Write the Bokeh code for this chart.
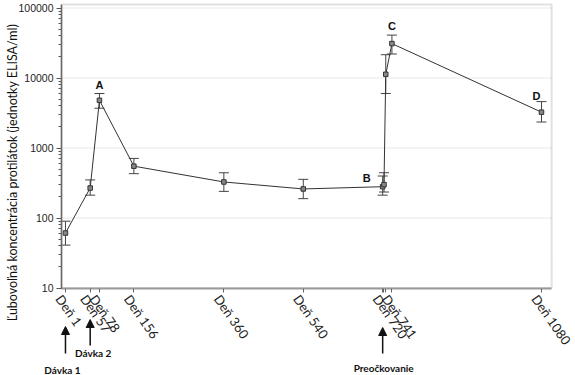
import math
from bokeh.plotting import figure
from bokeh.models import (ColumnDataSource, Whisker, TeeHead, Range1d, FixedTicker,
                          NumeralTickFormatter, Label, Arrow, NormalHead, LogTicker,
                          BoxAnnotation, LinearScale)
from bokeh.core.properties import value
from bokeh.embed import file_html
from bokeh.resources import INLINE

# ---- data ----
days = [1, 57, 78, 156, 360, 540, 720, 723, 727, 741, 1080]
gmt = [61, 268, 4800, 550, 327, 260, 280, 300, 11300, 31000, 3250]
ci_low = [41, 212, 3700, 430, 240, 189, 212, 235, 6000, 22000, 2350]
ci_high = [90, 350, 6000, 710, 443, 357, 398, 443, 21500, 41000, 4600]

tick_days = [1, 57, 78, 156, 360, 540, 720, 723, 727, 741, 1080]
tick_labels = ["Deň 1", "Deň 57", "Deň 78", "Deň 156", "Deň 360", "Deň 540",
               "Deň 720", "", "", "Deň 741", "Deň 1080"]

grid_values = [100, 1000, 10000, 100000]

point_letters = ["A", "B", "C", "D"]
letter_days = [78, 720, 741, 1080]

dose_texts = ["Dávka 1", "Dávka 2", "Preočkovanie"]
dose_days = [1, 57, 720]

y_title = "Ľubovoľná koncentrácia protilátok (jednotky ELISA/ml)"

# ---- layout constants (pixels) ----
FIG_W, FIG_H = 575, 375
ABOVE_PX = 287.5       # space above the x axis line
BELOW_PX = FIG_H - ABOVE_PX
DEC_PX = 70.0          # pixels per decade
BOX_TOP_PX = 283.5
X_START, X_END = -146.3, 1157.1
BOX_LEFT, BOX_RIGHT = -8, 1103

y_start = 10 ** (1 - BELOW_PX / DEC_PX)
y_end = 10 ** (1 + ABOVE_PX / DEC_PX)
box_top = 10 ** (1 + BOX_TOP_PX / DEC_PX)

p = figure(width=FIG_W, height=FIG_H, y_axis_type="log",
           x_range=Range1d(X_START, X_END), y_range=Range1d(y_start, y_end),
           output_backend="svg", toolbar_location=None, min_border=0)
p.extra_x_ranges = {"px": Range1d(0, FIG_W)}
p.extra_x_scales = {"px": LinearScale()}
p.extra_y_ranges = {"px": Range1d(-BELOW_PX, ABOVE_PX)}
p.extra_y_scales = {"px": LinearScale()}

p.outline_line_color = None
p.background_fill_color = "white"
p.border_fill_color = "white"
p.xgrid.visible = False
p.ygrid.visible = False

# grid lines inside the box
p.segment(x0=BOX_LEFT, x1=BOX_RIGHT, y0=grid_values, y1=grid_values,
          line_color="#e8e8e8", line_width=1)

# plot box
p.add_layout(BoxAnnotation(left=BOX_LEFT, right=BOX_RIGHT, bottom=10, top=box_top,
                           fill_color=None, line_color="#9a9a9a", line_width=2))

# y axis
p.yaxis.fixed_location = BOX_LEFT
p.yaxis.bounds = (10, box_top)
p.yaxis.ticker = LogTicker(num_minor_ticks=10)
p.yaxis.formatter = NumeralTickFormatter(format="0")
p.yaxis.major_label_text_font = "Liberation Sans"
p.yaxis.major_label_text_font_size = "10.5px"
p.yaxis.major_label_text_color = "#222222"
p.yaxis.axis_line_color = "#555555"
p.yaxis.axis_line_width = 1.5
p.yaxis.major_tick_line_color = "#555555"
p.yaxis.minor_tick_line_color = "#555555"
p.yaxis.major_tick_out = 5
p.yaxis.major_tick_in = 0
p.yaxis.minor_tick_out = 3
p.yaxis.minor_tick_in = 0
p.yaxis.major_label_standoff = 3

# x axis: ticks only (labels drawn rotated below)
p.xaxis.fixed_location = 10
p.xaxis.bounds = (BOX_LEFT, BOX_RIGHT)
p.xaxis.ticker = FixedTicker(ticks=[], minor_ticks=tick_days)
p.xaxis.axis_line_color = "#9a9a9a"
p.xaxis.axis_line_width = 2
p.xaxis.major_tick_line_color = None
p.xaxis.minor_tick_line_color = "#666666"
p.xaxis.minor_tick_out = 4
p.xaxis.minor_tick_in = 0

# rotated x tick labels
p.text(x=tick_days, y=[-3.5] * len(tick_days), text=tick_labels, y_range_name="px",
       angle=-0.96, text_align="left", text_baseline="top",
       text_font=value("Lato"), text_font_size="13px", text_color="#222222")

src = ColumnDataSource(dict(x=days, y=gmt, lo=ci_low, hi=ci_high))

p.line("x", "y", source=src, line_color="#333333", line_width=1)
p.add_layout(Whisker(base="x", lower="lo", upper="hi", source=src,
                     line_color="#444444", line_width=1,
                     upper_head=TeeHead(size=10, line_color="#444444", line_width=1),
                     lower_head=TeeHead(size=10, line_color="#444444", line_width=1)))
p.scatter("x", "y", source=src, marker="square", size=4.5,
          fill_color="#888888", line_color="#333333", line_width=1)

# point letters
letter_offsets = {"A": (0, 3, "center"), "B": (-12, 3, "right"),
                  "C": (0, 3, "center"), "D": (-5, 0, "center")}
hi_by_day = dict(zip(days, ci_high))
gmt_by_day = dict(zip(days, gmt))
for letter, d in zip(point_letters, letter_days):
    xo, yo, al = letter_offsets[letter]
    yv = gmt_by_day[d] if letter == "B" else hi_by_day[d]
    p.add_layout(Label(x=d, y=yv, text=letter, x_offset=xo, y_offset=yo,
                       text_align=al, text_baseline="bottom",
                       text_font="Liberation Sans", text_font_style="bold",
                       text_font_size="11px", text_color="#111111"))

# y-axis title
p.add_layout(Label(x=12, y=115.5, x_range_name="px", y_range_name="px",
                   text=y_title, angle=math.pi / 2, text_align="center",
                   text_baseline="middle", text_font="Lato",
                   text_font_size="12.5px", text_color="#111111"))

# dose arrows and texts (pixel offsets below the x axis line)
arrow_tail = [-65.5, -57.5, -65.5]
arrow_head = [-38.5, -31.5, -39.5]
text_y = [-81.5, -64.5, -79.5]
text_dx = [-3, 3, 1]
for t, d, ys, ye, ty, dx in zip(dose_texts, dose_days, arrow_tail, arrow_head, text_y, text_dx):
    p.add_layout(Arrow(x_start=d, y_start=ys, x_end=d, y_end=ye, y_range_name="px",
                       line_color="#111111", line_width=1.5,
                       end=NormalHead(size=8, fill_color="#111111", line_color="#111111")))
    p.add_layout(Label(x=d, y=ty, y_range_name="px", text=t, x_offset=dx,
                       text_align="center", text_baseline="middle",
                       text_font="Lato", text_font_style="bold",
                       text_font_size="10px", text_color="#111111"))

open("out.html", "w").write(file_html(p, INLINE))
